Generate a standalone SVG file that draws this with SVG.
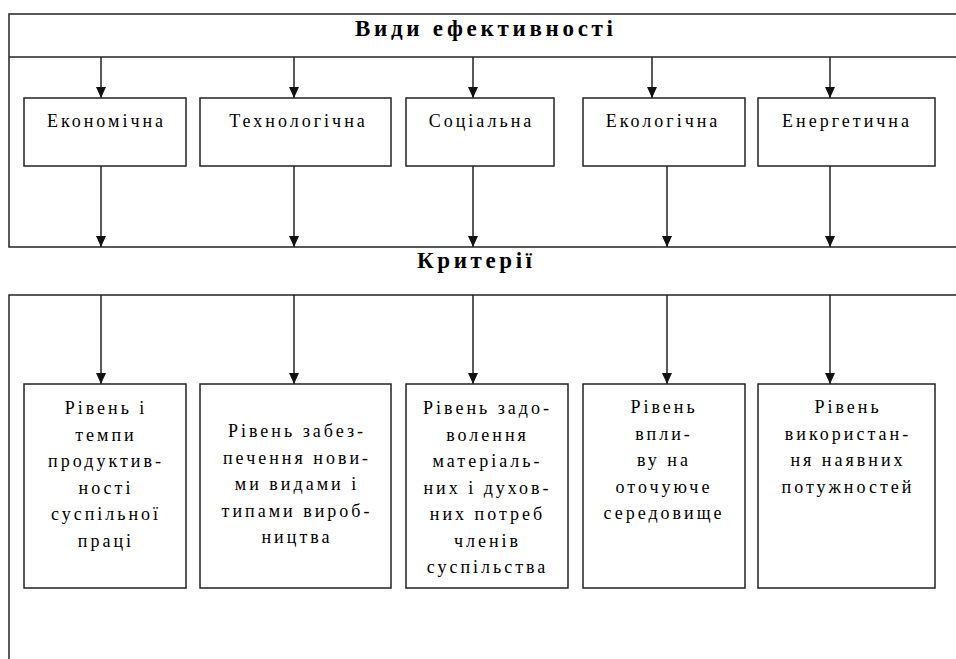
<svg xmlns="http://www.w3.org/2000/svg" width="956" height="659" viewBox="0 0 956 659">
<style>
.frame{fill:none;stroke:#222;stroke-width:1.5}
.box{fill:#fff;stroke:#222;stroke-width:1.5}
.conn{stroke:#222;stroke-width:1.5;fill:none;marker-end:url(#ah)}
.t{font-family:'Liberation Serif','Times New Roman',serif;font-size:18px;letter-spacing:3px;fill:#000;text-anchor:middle}
.h{font-family:'Liberation Serif','Times New Roman',serif;font-size:23px;font-weight:bold;fill:#000}
</style>
<defs>
<marker id="ah" markerUnits="userSpaceOnUse" markerWidth="10" markerHeight="11" refX="5" refY="11" orient="0" viewBox="0 0 10 11">
<path d="M0,0 L10,0 L5,11 Z" fill="#111"/>
</marker>
</defs>
<rect width="956" height="659" fill="#fff"/>
<g id="frame-top">
<path class="frame" d="M960,14 H9 V247 H960"/>
<line class="frame" x1="9" y1="57" x2="960" y2="57"/>
<text class="h" x="355" y="36" textLength="258" lengthAdjust="spacing">Види ефективності</text>
</g>
<g id="frame-bottom">
<path class="frame" d="M960,295 H9 V662"/>
<text class="h" x="417" y="268" textLength="115" lengthAdjust="spacing">Критерії</text>
</g>
<g id="connectors">
<line class="conn" x1="101" y1="57" x2="101" y2="98"/>
<line class="conn" x1="294" y1="57" x2="294" y2="98"/>
<line class="conn" x1="473" y1="57" x2="473" y2="98"/>
<line class="conn" x1="652" y1="57" x2="652" y2="98"/>
<line class="conn" x1="830" y1="57" x2="830" y2="98"/>
<line class="conn" x1="101" y1="166" x2="101" y2="247"/>
<line class="conn" x1="294" y1="166" x2="294" y2="247"/>
<line class="conn" x1="473" y1="166" x2="473" y2="247"/>
<line class="conn" x1="667" y1="166" x2="667" y2="247"/>
<line class="conn" x1="830" y1="166" x2="830" y2="247"/>
<line class="conn" x1="101" y1="295" x2="101" y2="384"/>
<line class="conn" x1="294" y1="295" x2="294" y2="384"/>
<line class="conn" x1="473" y1="295" x2="473" y2="384"/>
<line class="conn" x1="667" y1="295" x2="667" y2="384"/>
<line class="conn" x1="830" y1="295" x2="830" y2="384"/>
</g>
<g id="n-econ"><rect class="box" x="24" y="98" width="162" height="68"/><text class="t" x="106.5" y="127">Економічна</text></g>
<g id="n-tech"><rect class="box" x="200" y="98" width="191" height="68"/><text class="t" x="298.5" y="127">Технологічна</text></g>
<g id="n-soc"><rect class="box" x="406" y="98" width="148" height="68"/><text class="t" x="481.5" y="127">Соціальна</text></g>
<g id="n-ecol"><rect class="box" x="583" y="98" width="162" height="68"/><text class="t" x="663" y="127">Екологічна</text></g>
<g id="n-energ"><rect class="box" x="758" y="98" width="177" height="68"/><text class="t" x="847" y="127">Енергетична</text></g>
<g id="c-econ"><rect class="box" x="24" y="384" width="162" height="204"/>
<text class="t" x="106" y="414">Рівень і</text>
<text class="t" x="106" y="440.5">темпи</text>
<text class="t" x="106" y="467">продуктив-</text>
<text class="t" x="106" y="493.5">ності</text>
<text class="t" x="106" y="520">суспільної</text>
<text class="t" x="106" y="546.5">праці</text>
</g>
<g id="c-tech"><rect class="box" x="200" y="384" width="191" height="204"/>
<text class="t" x="297" y="437">Рівень забез-</text>
<text class="t" x="297" y="463.5">печення нови-</text>
<text class="t" x="297" y="490">ми видами і</text>
<text class="t" x="297" y="516.5">типами вироб-</text>
<text class="t" x="297" y="543">ництва</text>
</g>
<g id="c-soc"><rect class="box" x="406" y="384" width="162" height="204"/>
<text class="t" x="487.5" y="414">Рівень задо-</text>
<text class="t" x="487.5" y="440.5">волення</text>
<text class="t" x="487.5" y="467">матеріаль-</text>
<text class="t" x="487.5" y="493.5">них і духов-</text>
<text class="t" x="487.5" y="520">них потреб</text>
<text class="t" x="487.5" y="546.5">членів</text>
<text class="t" x="487.5" y="573">суспільства</text>
</g>
<g id="c-ecol"><rect class="box" x="583" y="384" width="162" height="204"/>
<text class="t" x="664" y="413">Рівень</text>
<text class="t" x="664" y="440">впли-</text>
<text class="t" x="664" y="466">ву на</text>
<text class="t" x="664" y="493">оточуюче</text>
<text class="t" x="664" y="519">середовище</text>
</g>
<g id="c-energ"><rect class="box" x="758" y="384" width="177" height="204"/>
<text class="t" x="848" y="413">Рівень</text>
<text class="t" x="848" y="440">використан-</text>
<text class="t" x="848" y="466">ня наявних</text>
<text class="t" x="848" y="493">потужностей</text>
</g>
</svg>
